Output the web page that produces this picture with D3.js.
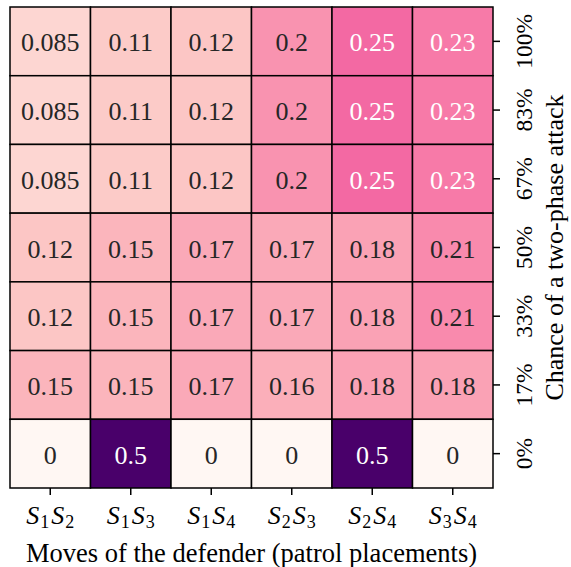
<!DOCTYPE html>
<html>
<head>
<meta charset="utf-8">
<script src="https://cdn.jsdelivr.net/npm/d3@7"></script>
<style>
	body { margin: 0; background: #fff; }
</style>
</head>
<body>
<div id="chart"></div>
<script>
// defender moves (columns) and attack chance (rows, top to bottom)
var moves = [['1', '2'], ['1', '3'], ['1', '4'], ['2', '3'], ['2', '4'], ['3', '4']]
var chances = ['100%', '83%', '67%', '50%', '33%', '17%', '0%']

var values = [
	[0.085, 0.11, 0.12, 0.2, 0.25, 0.23],
	[0.085, 0.11, 0.12, 0.2, 0.25, 0.23],
	[0.085, 0.11, 0.12, 0.2, 0.25, 0.23],
	[0.12, 0.15, 0.17, 0.17, 0.18, 0.21],
	[0.12, 0.15, 0.17, 0.17, 0.18, 0.21],
	[0.15, 0.15, 0.17, 0.16, 0.18, 0.18],
	[0, 0.5, 0, 0, 0.5, 0]
]

var font = 'Liberation Serif'

var w = 571
var h = 567
var margin = { top: 7, right: 78, bottom: 79, left: 10 }
var innerW = w - margin.left - margin.right
var innerH = h - margin.top - margin.bottom

var svg = d3.select('#chart')
	.append('svg')
	.attr('width', w)
	.attr('height', h)

var g = svg.append('g')
	.attr('transform', 'translate(' + margin.left + ',' + margin.top + ')')

var xScale = d3.scaleBand()
	.domain(d3.range(moves.length))
	.range([0, innerW])

var yScale = d3.scaleBand()
	.domain(chances)
	.range([0, innerH])

var color = d3.scaleSequential(d3.interpolateRdPu)
	.domain([0, 0.5])

var cells = []
values.forEach(function(row, r) {
	row.forEach(function(v, c) {
		cells.push({ row: chances[r], col: c, value: v })
	})
})

function luminance(c) {
	var rgb = d3.rgb(c)
	var ch = [rgb.r, rgb.g, rgb.b].map(function(x) {
		x = x / 255
		return x <= 0.03928 ? x / 12.92 : Math.pow((x + 0.055) / 1.055, 2.4)
	})
	return 0.2126 * ch[0] + 0.7152 * ch[1] + 0.0722 * ch[2]
}

g.selectAll('rect.cell')
	.data(cells)
	.enter()
	.append('rect')
	.attr('class', 'cell')
	.attr('x', (d) => xScale(d.col))
	.attr('y', (d) => yScale(d.row))
	.attr('width', xScale.bandwidth())
	.attr('height', yScale.bandwidth())
	.attr('fill', (d) => color(d.value))
	.attr('stroke', '#000')
	.attr('stroke-width', 1.5)

g.selectAll('text.val')
	.data(cells)
	.enter()
	.append('text')
	.attr('class', 'val')
	.attr('x', (d) => xScale(d.col) + xScale.bandwidth() / 2)
	.attr('y', (d) => yScale(d.row) + yScale.bandwidth() / 2 + 10)
	.attr('text-anchor', 'middle')
	.attr('font-family', font)
	.style('font-family', font)
	.attr('font-size', 26)
	.attr('fill', (d) => luminance(color(d.value)) > 0.408 ? '#262626' : '#fff')
	.text((d) => d.value)

// bottom axis
var xAxis = d3.axisBottom(xScale).tickSize(7).tickSizeOuter(0).tickFormat('')
var xg = g.append('g')
	.attr('transform', 'translate(0,' + innerH + ')')
	.call(xAxis)
xg.select('.domain').remove()
xg.selectAll('.tick line').attr('stroke', '#000').attr('stroke-width', 1.5)

var xl = xg.selectAll('.tick')
	.append('text')
	.attr('y', 36)
	.attr('fill', '#000')
	.attr('text-anchor', 'middle')
	.attr('font-family', font)
	.style('font-family', font)
	.attr('font-size', 26)
xl.each(function(d) {
	var t = d3.select(this)
	var m = moves[d]
	t.append('tspan').attr('font-style', 'italic').text('S')
	t.append('tspan').attr('font-size', 18).attr('dx', 1).attr('dy', 4).text(m[0])
	t.append('tspan').attr('font-style', 'italic').attr('dx', 2).attr('dy', -4).text('S')
	t.append('tspan').attr('font-size', 18).attr('dx', 1).attr('dy', 4).text(m[1])
})

// right axis
var yAxis = d3.axisRight(yScale).tickSize(7).tickSizeOuter(0)
var yg = g.append('g')
	.attr('transform', 'translate(' + innerW + ',0)')
	.call(yAxis)
yg.select('.domain').remove()
yg.selectAll('.tick line').attr('stroke', '#000').attr('stroke-width', 1.5)
yg.selectAll('.tick text')
	.attr('font-family', font)
	.style('font-family', font)
	.attr('font-size', 23.5)
	.attr('fill', '#000')
	.attr('x', 0)
	.attr('y', 0)
	.attr('dy', null)
	.attr('text-anchor', 'middle')
	.attr('transform', 'translate(39,0) rotate(-90)')

svg.append('text')
	.attr('x', margin.left + innerW / 2)
	.attr('y', h - 5)
	.attr('text-anchor', 'middle')
	.attr('font-family', font)
	.style('font-family', font)
	.attr('font-size', 26.5)
	.text('Moves of the defender (patrol placements)')

svg.append('text')
	.attr('transform', 'translate(' + (margin.left + innerW + 70) + ',' + (margin.top + innerH / 2) + ') rotate(-90)')
	.attr('text-anchor', 'middle')
	.attr('font-family', font)
	.style('font-family', font)
	.attr('font-size', 26)
	.text('Chance of a two-phase attack')
</script>
</body>
</html>
